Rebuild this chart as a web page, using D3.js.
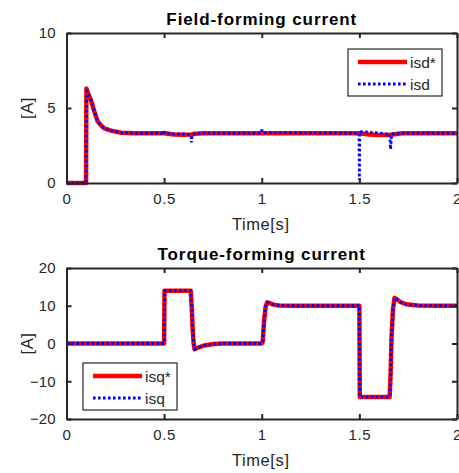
<!DOCTYPE html>
<html>
<head>
<meta charset="utf-8">
<script src="https://cdn.jsdelivr.net/npm/d3@7"></script>
<style>
  body { margin: 0; background: #fff; }
  svg { display: block; font-family: "Liberation Sans", Arial, sans-serif; }
</style>
</head>
<body>
<svg id="chart" width="459" height="473"></svg>
<script>
// ---------- data ----------
const timeTicks = [0, 0.5, 1, 1.5, 2];
const isdTicks = [0, 5, 10];
const isqTicks = [-20, -10, 0, 10, 20];

const isdStarTime = [0, 0.1, 0.102, 0.11, 0.126, 0.143, 0.16, 0.18, 0.195, 0.228, 0.28, 0.35, 0.5, 0.55, 0.6, 0.64, 0.66, 0.7, 1.5, 1.55, 1.6, 1.65, 1.68, 1.72, 2];
const isdStar     = [0, 0, 6.3, 6.0, 5.5, 4.75, 4.1, 3.8, 3.64, 3.49, 3.35, 3.31, 3.31, 3.23, 3.21, 3.23, 3.28, 3.31, 3.31, 3.24, 3.2, 3.2, 3.25, 3.31, 3.31];

const isdTime = [0, 0.1, 0.102, 0.11, 0.126, 0.143, 0.16, 0.18, 0.195, 0.228, 0.28, 0.35, 0.498, 0.5, 0.503, 0.55, 0.6, 0.638, 0.64, 0.643, 0.66, 0.7, 0.998, 1.0, 1.003, 1.498, 1.5, 1.502, 1.52, 1.55, 1.6, 1.655, 1.66, 1.665, 1.68, 1.72, 2];
const isd     = [0, 0, 6.3, 6.0, 5.5, 4.75, 4.1, 3.8, 3.64, 3.49, 3.35, 3.31, 3.31, 3.45, 3.33, 3.28, 3.28, 3.2, 2.7, 3.2, 3.3, 3.31, 3.31, 3.65, 3.35, 3.31, 0.2, 3.4, 3.42, 3.38, 3.33, 3.25, 2.25, 3.25, 3.3, 3.31, 3.31];

const isqTime  = [0, 0.5, 0.502, 0.636, 0.641, 0.646, 0.651, 0.656, 0.665, 0.7, 0.75, 0.8, 1.0, 1.005, 1.012, 1.02, 1.028, 1.04, 1.06, 1.09, 1.15, 1.5, 1.502, 1.655, 1.66, 1.665, 1.672, 1.68, 1.69, 1.71, 1.74, 1.8, 1.9, 2];
const isqStar  = [0, 0, 14, 14, 10, 4, 0, -1.5, -1.3, -0.6, -0.15, 0, 0, 0.5, 6, 9.8, 10.9, 10.7, 10.3, 10.05, 10, 10, -14.2, -14.2, -8, 2, 9, 12.1, 11.8, 11, 10.4, 10.05, 10, 10];
const isq      = [0, 0, 14, 14, 10, 4, 0, -1.5, -1.3, -0.6, -0.15, 0, 0, 0.5, 6, 9.8, 10.9, 10.7, 10.3, 10.05, 10, 10, -14.2, -14.2, -8, 2, 9, 12.1, 11.8, 11, 10.4, 10.05, 10, 10];

// ---------- drawing ----------
const svg = d3.select("#chart");
const axisColor = "#262626";
const left = 66.5, right = 457;

function panel(opts) {
  const x = d3.scaleLinear().domain([0, 2]).range([left, right]);
  const y = d3.scaleLinear().domain(opts.yDomain).range([opts.bottom, opts.top]);
  const g = svg.append("g");

  // series
  const line = (ts, vs) => d3.line().x((d, i) => x(ts[i])).y((d, i) => y(vs[i]))(vs);
  g.append("path").attr("d", line(opts.refT, opts.refV))
    .attr("fill", "none").attr("stroke", "#ff0000").attr("stroke-width", 4.5)
    .attr("stroke-linejoin", "round");
  g.append("path").attr("d", line(opts.actT, opts.actV))
    .attr("fill", "none").attr("stroke", "#0000ff").attr("stroke-width", 2.8)
    .attr("stroke-dasharray", "2.6,2.4");

  // axes (ticks inward, box)
  const tickLen = 5;
  const axB = d3.axisBottom(x).tickValues(timeTicks).tickSizeInner(-tickLen).tickSizeOuter(0).tickPadding(10)
    .tickFormat(d3.format("~g"));
  const axT = d3.axisTop(x).tickValues(timeTicks).tickSizeInner(-tickLen).tickSizeOuter(0).tickFormat("");
  const axL = d3.axisLeft(y).tickValues(opts.yTicks).tickSizeInner(-tickLen).tickSizeOuter(0).tickPadding(11);
  const axR = d3.axisRight(y).tickValues(opts.yTicks).tickSizeInner(-tickLen).tickSizeOuter(0).tickFormat("");

  const styleAxis = sel => {
    sel.selectAll("path.domain").attr("stroke", axisColor).attr("stroke-width", 2);
    sel.selectAll(".tick line").attr("stroke", axisColor).attr("stroke-width", 2);
    sel.selectAll("text").attr("fill", axisColor).attr("font-size", 15)
      .attr("font-family", "Liberation Sans, Arial, sans-serif");
  };
  g.append("g").attr("transform", `translate(0,${opts.bottom})`).call(axB).call(styleAxis)
    .selectAll("text").attr("letter-spacing", 0.6);
  g.append("g").attr("transform", `translate(0,${opts.top})`).call(axT).call(styleAxis);
  g.append("g").attr("transform", `translate(${left},0)`).call(axL).call(styleAxis);
  g.append("g").attr("transform", `translate(${right},0)`).call(axR).call(styleAxis);
  // remove endpoint tick lines that overlap frame
  g.selectAll(".tick line").filter(function () { return false; });

  // title
  g.append("text").attr("x", (left + right) / 2).attr("y", opts.top - 8)
    .attr("text-anchor", "middle").attr("font-weight", "bold").attr("font-size", 17)
    .attr("letter-spacing", 0.9).attr("fill", "#000").text(opts.title);
  // x label
  g.append("text").attr("x", (left + right) / 2 - 1).attr("y", opts.bottom + 47)
    .attr("text-anchor", "middle").attr("font-size", 16.5).attr("letter-spacing", 0.6)
    .attr("fill", axisColor).text("Time[s]");
  // y label
  g.append("text").attr("transform", `translate(33,${(opts.top + opts.bottom) / 2}) rotate(-90)`)
    .attr("text-anchor", "middle").attr("font-size", 16.5).attr("letter-spacing", 0.6)
    .attr("fill", axisColor).text("[A]");

  // legend
  const L = opts.legend;
  const lg = g.append("g");
  lg.append("rect").attr("x", L.x).attr("y", L.y).attr("width", 94).attr("height", 47)
    .attr("fill", "#fff").attr("stroke", axisColor).attr("stroke-width", 1.2);
  lg.append("line").attr("x1", L.x + 10).attr("x2", L.x + 59).attr("y1", L.y + 13).attr("y2", L.y + 13)
    .attr("stroke", "#ff0000").attr("stroke-width", 4.5);
  lg.append("line").attr("x1", L.x + 10).attr("x2", L.x + 59).attr("y1", L.y + 35).attr("y2", L.y + 35)
    .attr("stroke", "#0000ff").attr("stroke-width", 2.8).attr("stroke-dasharray", "2.6,2.4");
  lg.append("text").attr("x", L.x + 62).attr("y", L.y + 19).attr("font-size", 15.5)
    .attr("fill", axisColor).text(L.names[0]);
  lg.append("text").attr("x", L.x + 62).attr("y", L.y + 41).attr("font-size", 15.5)
    .attr("fill", axisColor).text(L.names[1]);
}

panel({
  title: "Field-forming current", top: 33, bottom: 183, yDomain: [0, 10], yTicks: isdTicks,
  refT: isdStarTime, refV: isdStar, actT: isdTime, actV: isd,
  legend: { x: 348, y: 49, names: ["isd*", "isd"] }
});
panel({
  title: "Torque-forming current", top: 268, bottom: 419, yDomain: [-20, 20], yTicks: isqTicks,
  refT: isqTime, refV: isqStar, actT: isqTime, actV: isq,
  legend: { x: 83, y: 363, names: ["isq*", "isq"] }
});
</script>
</body>
</html>
